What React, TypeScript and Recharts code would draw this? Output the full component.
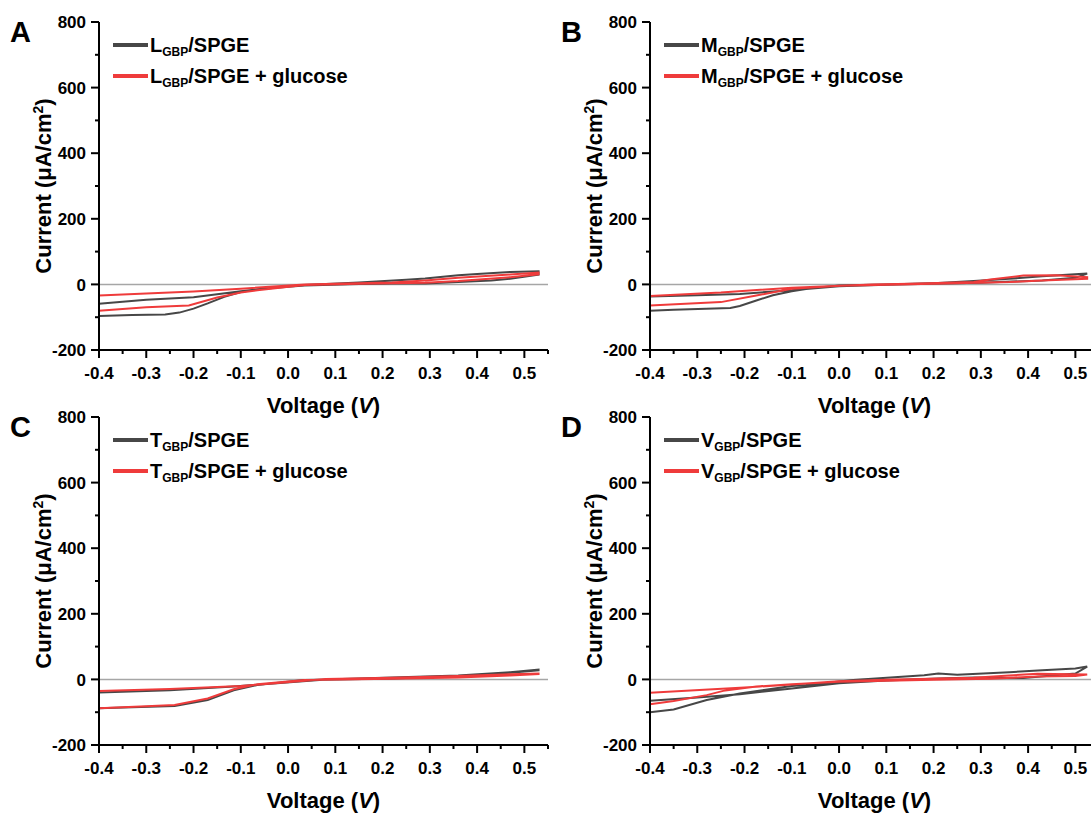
import { LineChart, Line, XAxis, YAxis, ReferenceLine } from "recharts";

type Pt = [number, number];

// cyclic voltammograms, [voltage V, current µA/cm²], in sweep order
const L_BARE: Pt[] = [
  [-0.4, -96], [-0.33, -93], [-0.26, -92], [-0.23, -86], [-0.2, -74], [-0.17, -58],
  [-0.135, -38], [-0.1, -23], [-0.065, -15], [0.0, -7], [0.035, -3], [0.15, 1],
  [0.22, 3], [0.29, 3], [0.36, 7], [0.43, 12], [0.47, 17], [0.53, 30],
  [0.53, 40], [0.47, 38], [0.4, 32], [0.36, 28], [0.29, 18], [0.25, 14], [0.15, 6],
  [0.035, -2], [-0.065, -15], [-0.1, -21], [-0.2, -39], [-0.3, -47], [-0.4, -59],
];
const L_GLU: Pt[] = [
  [-0.4, -80], [-0.3, -70], [-0.21, -64], [-0.15, -40], [-0.1, -25], [-0.065, -18],
  [0.035, -2], [0.15, 2], [0.29, 5], [0.36, 10], [0.47, 22], [0.53, 31],
  [0.53, 36], [0.47, 30], [0.36, 20], [0.29, 12], [0.22, 6], [0.1, 2], [0.035, 0],
  [-0.1, -13], [-0.2, -22], [-0.3, -28], [-0.4, -34],
];
const M_BARE: Pt[] = [
  [-0.4, -80], [-0.35, -77], [-0.23, -72], [-0.21, -66], [-0.175, -49], [-0.14, -33],
  [-0.1, -21], [-0.07, -14], [0.0, -6], [0.1, -1], [0.19, 2], [0.3, 5], [0.43, 12],
  [0.5, 20], [0.525, 33], [0.43, 25], [0.36, 17], [0.285, 10], [0.21, 4], [0.1, 0],
  [0.0, -3], [-0.1, -18], [-0.21, -29], [-0.3, -33], [-0.4, -37],
];
const M_GLU: Pt[] = [
  [-0.4, -64], [-0.25, -54], [-0.175, -34], [-0.1, -13], [0.0, -4], [0.2, 2],
  [0.36, 7], [0.43, 12], [0.525, 17], [0.525, 22], [0.46, 28], [0.39, 27],
  [0.32, 15], [0.285, 7], [0.15, 2], [0.07, 0], [-0.1, -10], [-0.25, -25], [-0.4, -35],
];
const T_BARE: Pt[] = [
  [-0.4, -88], [-0.24, -81], [-0.17, -63], [-0.115, -33], [-0.065, -17], [0.035, -2],
  [0.22, 3], [0.36, 10], [0.47, 20], [0.53, 28], [0.53, 30], [0.47, 22], [0.36, 12],
  [0.22, 6], [0.08, 0], [-0.115, -22], [-0.25, -33], [-0.4, -40],
];
const T_GLU: Pt[] = [
  [-0.4, -88], [-0.3, -82], [-0.24, -78], [-0.17, -58], [-0.115, -30], [-0.065, -15],
  [0.035, -2], [0.22, 2], [0.36, 6], [0.47, 12], [0.53, 16], [0.53, 18], [0.47, 16],
  [0.36, 10], [0.22, 5], [0.08, 1], [-0.1, -20], [-0.25, -29], [-0.4, -35],
];
const V_BARE: Pt[] = [
  [-0.4, -100], [-0.35, -92], [-0.28, -63], [-0.21, -43], [-0.1, -20], [-0.07, -17],
  [0.03, -2], [0.18, 13], [0.21, 18], [0.25, 14], [0.36, 22], [0.43, 28], [0.5, 33],
  [0.525, 39], [0.5, 18], [0.39, 4], [0.285, 6], [0.21, 3], [0.1, -3], [0.0, -12],
  [-0.1, -28], [-0.21, -45], [-0.3, -55], [-0.4, -65],
];
const V_GLU: Pt[] = [
  [-0.4, -76], [-0.35, -66], [-0.28, -48], [-0.245, -35], [-0.175, -22], [-0.1, -15],
  [0.0, -7], [0.2, -1], [0.32, 2], [0.42, 9], [0.5, 10], [0.525, 15], [0.42, 17],
  [0.36, 12], [0.285, 5], [0.1, -1], [0.0, -6], [-0.2, -25], [-0.4, -41],
];

const X_TICKS = [-0.4, -0.35, -0.3, -0.25, -0.2, -0.15, -0.1, -0.05, 0, 0.05, 0.1, 0.15, 0.2, 0.25, 0.3, 0.35, 0.4, 0.45, 0.5, 0.55];
const X_LABELS = [-0.4, -0.3, -0.2, -0.1, 0, 0.1, 0.2, 0.3, 0.4, 0.5];
const Y_TICKS = [-200, -100, 0, 100, 200, 300, 400, 500, 600, 700, 800];
const Y_LABELS = [-200, 0, 200, 400, 600, 800];

const FONT = '"Liberation Sans", Arial, sans-serif';
const BLACK = "#474747";
const RED = "#ef3b3b";

const toRows = (pts: Pt[]) => pts.map(([v, i]) => ({ v, i }));

const XTick = (props: any) => {
  const { x, y, payload } = props;
  const major = X_LABELS.includes(payload.value);
  return (
    <g>
      <line x1={x} x2={x} y1={y} y2={y + (major ? 8 : 4)} stroke="#000" strokeWidth={2} />
      {major && (
        <text x={x} y={y + 23} dy="0.36em" textAnchor="middle" fontFamily={FONT} fontWeight="bold" fontSize={17} fill="#000">
          {payload.value.toFixed(1)}
        </text>
      )}
    </g>
  );
};

const YTick = (props: any) => {
  const { x, y, payload } = props;
  const major = Y_LABELS.includes(payload.value);
  return (
    <g>
      <line x1={x - (major ? 8 : 4)} x2={x} y1={y} y2={y} stroke="#000" strokeWidth={2} />
      {major && (
        <text x={x - 13} y={y} dy="0.36em" textAnchor="end" fontFamily={FONT} fontWeight="bold" fontSize={17} fill="#000">
          {payload.value}
        </text>
      )}
    </g>
  );
};

const XTitle = (props: any) => {
  const { x, y, width } = props.viewBox;
  return (
    <text x={x + width / 2} y={y + 63} textAnchor="middle" fontFamily={FONT} fontWeight="bold" fontSize={22} fill="#000">
      Voltage (<tspan fontStyle="italic">V</tspan>)
    </text>
  );
};

const YTitle = (props: any) => {
  const { x, y, height } = props.viewBox;
  const cx = x + 51;
  const cy = y + height / 2;
  return (
    <text x={cx} y={cy} transform={`rotate(-90 ${cx} ${cy})`} textAnchor="middle" fontFamily={FONT} fontWeight="bold" fontSize={22} fill="#000">
      Current (μA/cm<tspan dy={-8} fontSize={14}>2</tspan>
      <tspan dy={8}>)</tspan>
    </text>
  );
};

function LegendRow({ color, name, glucose, top }: { color: string; name: string; glucose: boolean; top: number }) {
  return (
    <div style={{ position: "absolute", left: 113, top, height: 20, whiteSpace: "nowrap" }}>
      <div style={{ position: "absolute", left: 0, top: 6.5, width: 35, height: 4, background: color }} />
      <div style={{ position: "absolute", left: 37, top: -1, fontFamily: FONT, fontWeight: "bold", fontSize: 20, lineHeight: "20px", color: "#000" }}>
        {name}
        <span style={{ fontSize: 12, position: "relative", top: 4 }}>GBP</span>/SPGE{glucose ? " + glucose" : ""}
      </div>
    </div>
  );
}

function Panel({ letter, name, bare, glucose, left, top }: { letter: string; name: string; bare: Pt[]; glucose: Pt[]; left: number; top: number }) {
  return (
    <div style={{ position: "absolute", left, top, width: 552, height: 420 }}>
      <LineChart width={552} height={420} margin={{ top: 22, right: 4, bottom: 0, left: 0 }}>
        <XAxis
          dataKey="v"
          type="number"
          domain={[-0.4, 0.55]}
          ticks={X_TICKS}
          interval={0}
          height={70}
          tickSize={0}
          tickMargin={0}
          tickLine={false}
          tick={XTick}
          axisLine={{ stroke: "#000", strokeWidth: 2 }}
          label={{ content: XTitle }}
        />
        <YAxis
          dataKey="i"
          type="number"
          domain={[-200, 800]}
          ticks={Y_TICKS}
          interval={0}
          width={99}
          tickSize={0}
          tickMargin={0}
          tickLine={false}
          tick={YTick}
          axisLine={{ stroke: "#000", strokeWidth: 2 }}
          label={{ content: YTitle }}
        />
        <ReferenceLine y={0} stroke="#a6a6a6" strokeWidth={1.5} />
        <Line data={toRows(bare)} dataKey="i" type="linear" stroke={BLACK} strokeWidth={2} dot={false} isAnimationActive={false} />
        <Line data={toRows(glucose)} dataKey="i" type="linear" stroke={RED} strokeWidth={2} dot={false} isAnimationActive={false} />
      </LineChart>
      <div style={{ position: "absolute", left: 10, top: 18, fontFamily: FONT, fontWeight: "bold", fontSize: 29, lineHeight: "29px" }}>{letter}</div>
      <LegendRow color={BLACK} name={name} glucose={false} top={36} />
      <LegendRow color={RED} name={name} glucose={true} top={67} />
    </div>
  );
}

export default function App() {
  return (
    <div style={{ position: "absolute", left: 0, top: 0, width: 1091, height: 813, overflow: "hidden", background: "#fff" }}>
      <Panel letter="A" name="L" bare={L_BARE} glucose={L_GLU} left={0} top={0} />
      <Panel letter="B" name="M" bare={M_BARE} glucose={M_GLU} left={551} top={0} />
      <Panel letter="C" name="T" bare={T_BARE} glucose={T_GLU} left={0} top={395} />
      <Panel letter="D" name="V" bare={V_BARE} glucose={V_GLU} left={551} top={395} />
    </div>
  );
}
